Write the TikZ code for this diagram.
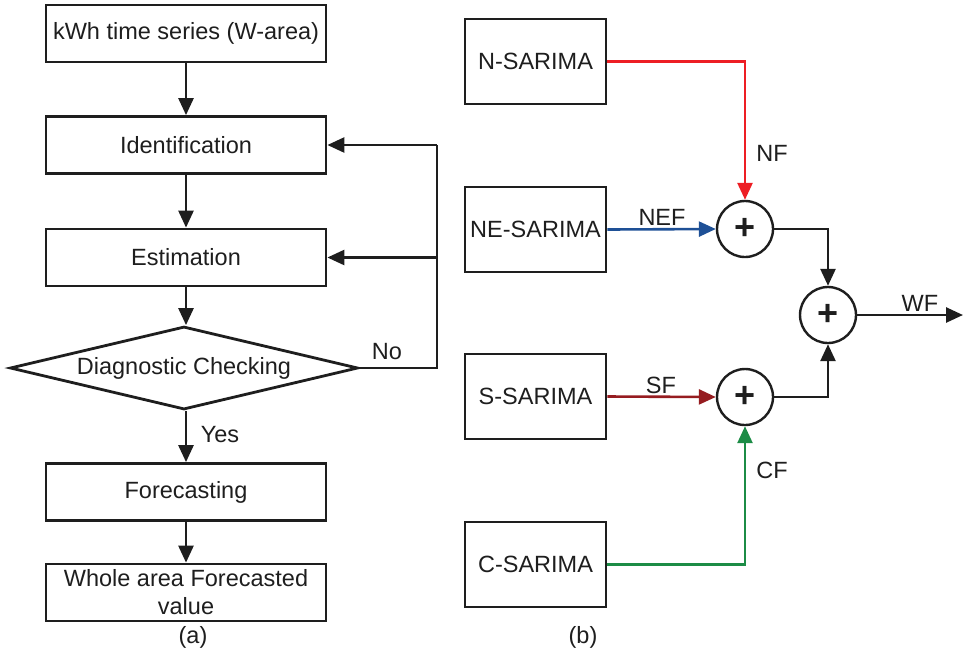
\documentclass[tikz,border=0pt]{standalone}
\usepackage{fontspec}
\setmainfont{Liberation Sans}
\usetikzlibrary{shapes.geometric,arrows.meta}
\definecolor{cred}{RGB}{237,30,36}
\definecolor{cblue}{RGB}{30,80,150}
\definecolor{cdred}{RGB}{150,28,32}
\definecolor{cgreen}{RGB}{28,140,70}
\definecolor{cblk}{RGB}{30,30,30}
\begin{document}
\begin{tikzpicture}[x=1pt,y=-1pt,
  every node/.style={font=\fontsize{23.5}{28}\selectfont, text=cblk},
  box/.style={draw=cblk, line width=2.8pt, minimum width=280pt, minimum height=57pt, inner sep=0pt, align=center},
  rbox/.style={draw=cblk, line width=2.8pt, minimum width=141pt, minimum height=85pt, inner sep=0pt},
  sum/.style={draw=cblk, circle, line width=2.4pt, minimum size=56pt, inner sep=0pt},
  conn/.style={line width=2.6pt, draw=cblk, -{Triangle[length=17pt,width=15pt]}},
  lbl/.style={inner sep=1pt}
]
\useasboundingbox (0,0) rectangle (963,657);
% (a)
\node[box] (ts) at (186,33.5) {kWh time series (W-area)};
\node[box] (id) at (186,145) {Identification};
\node[box] (es) at (186,257.5) {Estimation};
\node[draw=cblk, line width=2.8pt, diamond, aspect=4.2, minimum width=348pt, minimum height=83pt, inner sep=0pt] (dc) at (184,368) {Diagnostic Checking};
\node[box] (fc) at (186,492) {Forecasting};
\node[box] (wv) at (186,592.5) {Whole area Forecasted\\value};
\node (la) at (193,637) {(a)};
\coordinate (fbA) at (437,368);
\coordinate (fbB) at (437,257.5);
\coordinate (fbC) at (437,145);
\draw[conn] (ts) -- (id);
\draw[conn] (id) -- (es);
\draw[conn] (es) -- (es|-dc.north);
\draw[conn] (dc.south-|fc) -- (fc);
\node (yes) at (220,435) {Yes};
\draw[conn] (fc) -- (wv);
\draw[line width=2.6pt, draw=cblk] (dc.east) -- (fbA) -- (fbC);
\draw[conn] (fbB) -- (es.east);
\draw[conn] (fbC) -- (id.east);
\node (no) at (387,352) {No};
% (b)
\node[rbox] (n) at (535.5,61.5) {N-SARIMA};
\node[rbox] (ne) at (535.5,229.5) {NE-SARIMA};
\node[rbox] (s) at (535.5,396.5) {S-SARIMA};
\node[rbox] (c) at (535.5,564.5) {C-SARIMA};
\node[sum] (s1) at (745,229) {\fontsize{36}{36}\selectfont\textbf{+}};
\node[sum] (s2) at (828,315) {\fontsize{36}{36}\selectfont\textbf{+}};
\node[sum] (s3) at (745,397) {\fontsize{36}{36}\selectfont\textbf{+}};
\coordinate (wfend) at (963,315);
\draw[conn, draw=cred, -{Triangle[length=17pt,width=15pt,fill=cred]}] (n.east) -| (s1.north);
\draw[conn, draw=cblue, -{Triangle[length=17pt,width=15pt,fill=cblue]}] (ne.east) -- (s1.west);
\draw[conn, draw=cdred, -{Triangle[length=17pt,width=15pt,fill=cdred]}] (s.east) -- (s3.west);
\draw[conn, draw=cgreen, -{Triangle[length=17pt,width=15pt,fill=cgreen]}] (c.east) -| (s3.south);
\draw[conn] (s1.east) -| (s2.north);
\draw[conn] (s3.east) -| (s2.south);
\draw[conn] (s2.east) -- (wfend);
\node (nf) at (772,153) {NF};
\node (nef) at (662,217) {NEF};
\node (sf) at (661,385) {SF};
\node (cf) at (772,470) {CF};
\node (wf) at (920,303) {WF};
\node (lb) at (583,637) {(b)};
\end{tikzpicture}
\end{document}
